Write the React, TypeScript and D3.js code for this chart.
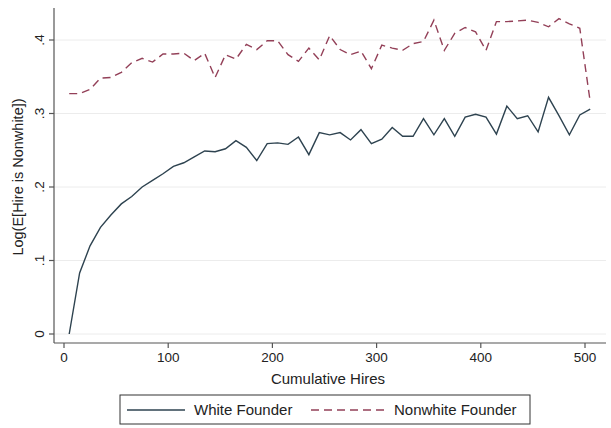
import React from "react";
import * as d3 from "d3";

const hires: number[] = d3.range(5, 506, 10);

const whiteFounder: number[] = [
  0.0, 0.083, 0.12, 0.145, 0.162, 0.177, 0.187, 0.2, 0.209, 0.218,
  0.228, 0.233, 0.241, 0.249, 0.248, 0.252, 0.263, 0.254, 0.236, 0.259,
  0.26, 0.258, 0.268, 0.244, 0.274, 0.271, 0.274, 0.264, 0.278, 0.259,
  0.265, 0.281, 0.269, 0.269, 0.293, 0.271, 0.293, 0.269, 0.295, 0.299,
  0.295, 0.272, 0.31, 0.293, 0.297, 0.275, 0.322, 0.297, 0.271, 0.298,
  0.306,
];

const nonwhiteFounder: number[] = [
  0.327, 0.327, 0.333, 0.348, 0.349, 0.356, 0.369, 0.375, 0.37, 0.381,
  0.381, 0.382, 0.372, 0.382, 0.349, 0.38, 0.374, 0.394, 0.387, 0.399,
  0.399, 0.38, 0.371, 0.389, 0.373, 0.406, 0.387, 0.38, 0.385, 0.361,
  0.393, 0.389, 0.386, 0.395, 0.398, 0.427, 0.386, 0.409, 0.417, 0.411,
  0.386, 0.425, 0.425, 0.426, 0.427, 0.424, 0.418, 0.429, 0.422, 0.416,
  0.316,
];

const xTicks: number[] = [0, 100, 200, 300, 400, 500];
const yTicks: number[] = [0, 0.1, 0.2, 0.3, 0.4];
const yTickLabels: string[] = ["0", ".1", ".2", ".3", ".4"];
const seriesNames: string[] = ["White Founder", "Nonwhite Founder"];

const W = 611;
const H = 428;
const left = 54;
const right = 606;
const top = 8;
const bottom = 343;

const FONT = "'Liberation Sans', Arial, sans-serif";
const WHITE_COLOR = "#2e4350";
const NONWHITE_COLOR = "#934058";
const AXIS_COLOR = "#555";

export default function App() {
  const x = d3.scaleLinear().domain([0, 500]).range([64, 585]);
  const y = d3.scaleLinear().domain([0, 0.4]).range([334, 40]);

  const line = d3
    .line<number>()
    .x((_, i) => x(hires[i]))
    .y((d) => y(d));

  return (
    <svg
      width={W}
      height={H}
      style={{ position: "absolute", left: 0, top: 0, background: "#fff" }}
      fontFamily={FONT}
    >
      <rect x={0} y={0} width={W} height={H} fill="#fff" />
      {yTicks.map((t) => (
        <line
          key={"g" + t}
          x1={left}
          x2={right}
          y1={y(t)}
          y2={y(t)}
          stroke="#ececec"
          strokeWidth={1}
        />
      ))}
      <path
        d={line(nonwhiteFounder) || ""}
        fill="none"
        stroke={NONWHITE_COLOR}
        strokeWidth={1.4}
        strokeDasharray="8,5"
      />
      <path
        d={line(whiteFounder) || ""}
        fill="none"
        stroke={WHITE_COLOR}
        strokeWidth={1.4}
      />
      <line x1={left} x2={left} y1={top} y2={bottom} stroke={AXIS_COLOR} strokeWidth={1.2} />
      <line x1={left} x2={right} y1={bottom} y2={bottom} stroke={AXIS_COLOR} strokeWidth={1.2} />
      {yTicks.map((t, i) => (
        <g key={"y" + t}>
          <line x1={left - 5} x2={left} y1={y(t)} y2={y(t)} stroke={AXIS_COLOR} strokeWidth={1.2} />
          <text
            transform={`translate(${left - 10},${y(t)}) rotate(-90)`}
            textAnchor="middle"
            fontSize={13.5}
            fill="#222"
          >
            {yTickLabels[i]}
          </text>
        </g>
      ))}
      {xTicks.map((t) => (
        <g key={"x" + t}>
          <line x1={x(t)} x2={x(t)} y1={bottom} y2={bottom + 5} stroke={AXIS_COLOR} strokeWidth={1.2} />
          <text x={x(t)} y={bottom + 19} textAnchor="middle" fontSize={13.5} fill="#222">
            {t}
          </text>
        </g>
      ))}
      <text x={328} y={384} textAnchor="middle" fontSize={15} fill="#222">
        Cumulative Hires
      </text>
      <text
        transform={`translate(23,177) rotate(-90)`}
        textAnchor="middle"
        fontSize={14.5}
        fill="#222"
      >
        Log(E[Hire is Nonwhite])
      </text>
      <rect x={120} y={395} width={410} height={29} fill="#fff" stroke="#333" strokeWidth={1} />
      <line x1={127} x2={185} y1={410} y2={410} stroke={WHITE_COLOR} strokeWidth={1.4} />
      <text x={194} y={415} fontSize={15} fill="#222">
        {seriesNames[0]}
      </text>
      <line
        x1={311}
        x2={384}
        y1={410}
        y2={410}
        stroke={NONWHITE_COLOR}
        strokeWidth={1.4}
        strokeDasharray="8,5"
      />
      <text x={394} y={415} fontSize={15} fill="#222">
        {seriesNames[1]}
      </text>
    </svg>
  );
}
